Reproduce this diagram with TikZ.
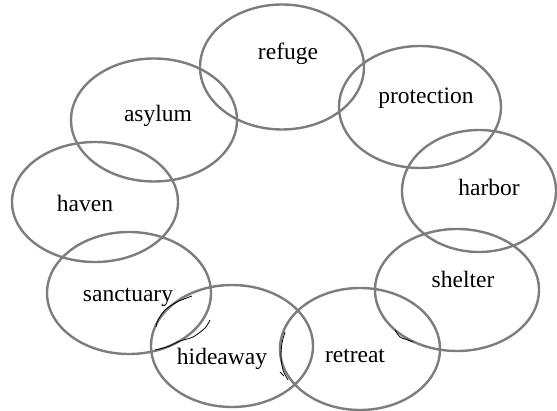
\documentclass[tikz,border=0pt]{standalone}
\usepackage{fontspec}
\setmainfont{Liberation Serif}
\usepackage{tikz}
\usetikzlibrary{shapes.geometric}
\definecolor{ringgray}{RGB}{125,125,125}

\begin{document}
\begin{tikzpicture}[
    x=1pt, y=-1pt,
    ring/.style={ellipse, draw=ringgray, line width=2.4pt, inner sep=0pt},
    word/.style={anchor=base, inner sep=0pt, font=\fontsize{23.5}{28}\selectfont},
    pen/.style={draw=black, line width=0.8pt}
]
\useasboundingbox (0,0) rectangle (557,411);

% the nine rings
\node[ring, minimum width=164pt, minimum height=125pt] (refuge) at (282,67) {};
\node[ring, minimum width=162pt, minimum height=122pt] (protection) at (420,107) {};
\node[ring, minimum width=154pt, minimum height=122pt] (harbor) at (479,191) {};
\node[ring, minimum width=164pt, minimum height=122pt] (shelter) at (457,290) {};
\node[ring, minimum width=160pt, minimum height=122pt] (retreat) at (360,349) {};
\node[ring, minimum width=162pt, minimum height=122pt] (hideaway) at (232,346) {};
\node[ring, minimum width=164pt, minimum height=122pt] (sanctuary) at (129,293) {};
\node[ring, minimum width=166pt, minimum height=120pt] (haven) at (95,202) {};
\node[ring, minimum width=166pt, minimum height=123pt] (asylum) at (154,120) {};

% words
\node[word] (refugeW) at (288,60) {refuge};
\node[word] (protectionW) at (426,104) {protection};
\node[word] (harborW) at (489,196) {harbor};
\node[word] (shelterW) at (463,288) {shelter};
\node[word] (retreatW) at (355,363) {retreat};
\node[word] (hideawayW) at (222,365) {hideaway};
\node[word] (sanctuaryW) at (128,302) {sanctuary};
\node[word] (havenW) at (85,212) {haven};
\node[word] (asylumW) at (158,122) {asylum};

% pen marks
\draw[pen] plot[smooth] coordinates {(192,296) (177,302) (165,310) (158,320) (156,327)};
\draw[pen] plot[smooth] coordinates {(155,350) (167,347) (180,341) (193,337) (205,328) (210,320)};
\draw[pen] plot[smooth] coordinates {(285,332) (282,343) (281,357) (283,370) (288,380)};
\draw[pen] (280,372) -- (284,376);
\draw[pen] plot[smooth] coordinates {(395,330) (400,337) (408,340) (413,342)};

\end{tikzpicture}
\end{document}
